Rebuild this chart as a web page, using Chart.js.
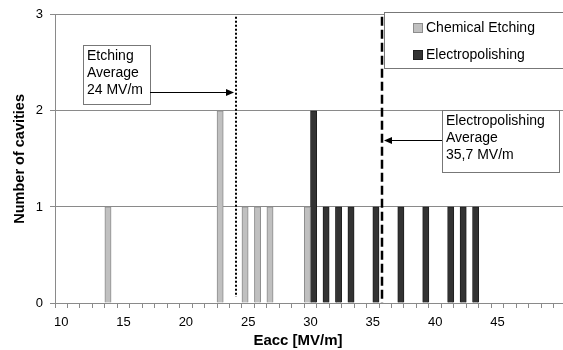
<!DOCTYPE html>
<html>
<head>
<meta charset="utf-8">
<title>Eacc distribution</title>
<script src="https://cdn.jsdelivr.net/npm/chart.js@4/dist/chart.umd.min.js"></script>
<style>
  html, body { margin: 0; padding: 0; background: #fff; overflow: hidden; }
  #wrap { width: 570px; height: 350px; }
</style>
</head>
<body>
<div id="wrap"><canvas id="cavityChart" width="570" height="350"></canvas></div>
<script>
// Gradient bins, 1 MV/m wide
const eaccBins = ['10', '11', '12', '13', '14', '15', '16', '17', '18', '19',
                  '20', '21', '22', '23', '24', '25', '26', '27', '28', '29',
                  '30', '31', '32', '33', '34', '35', '36', '37', '38', '39',
                  '40', '41', '42', '43', '44', '45', '46', '47', '48', '49', '50'];
const shownBinLabels = ['10', '15', '20', '25', '30', '35', '40', '45'];

// Chemical etching cavities per bin
const etchingBins = ['14', '23', '25', '26', '27', '30'];
const etchingCounts = [1, 2, 1, 1, 1, 1];

// Electropolished cavities per bin
const epBins = ['30', '31', '32', '33', '35', '37', '39', '41', '42', '43'];
const epCounts = [2, 1, 1, 1, 1, 1, 1, 1, 1, 1];

const etchingAverage = 24;
const epAverage = 35.7;
const etchingNote = ['Etching', 'Average', '24 MV/m'];
const epNote = ['Electropolishing', 'Average', '35,7 MV/m'];

const FONT = "'Liberation Sans', Arial, Helvetica, sans-serif";
const AXIS_GREY = '#8a8a8a';

function toPoints(bins, counts) {
    return bins.map((b, i) => ({ x: b, y: counts[i] }));
}

// bin value -> pixel, fractional values land between bin centres
function binPixel(xScale, v) {
    return xScale.getPixelForValue(v - Number(eaccBins[0]));
}

function noteBox(ctx, left, top, w, h, lines) {
    ctx.fillStyle = '#fff';
    ctx.fillRect(left, top, w, h);
    ctx.strokeStyle = '#777';
    ctx.lineWidth = 1;
    ctx.strokeRect(left + 0.5, top + 0.5, w, h);
    ctx.fillStyle = '#000';
    ctx.font = '14px ' + FONT;
    ctx.textAlign = 'left';
    ctx.textBaseline = 'middle';
    lines.forEach((t, i) => ctx.fillText(t, left + 4, top + 11 + i * 17));
}

function arrow(ctx, x0, x1, yy) {
    const dir = Math.sign(x1 - x0);
    ctx.strokeStyle = '#000';
    ctx.lineWidth = 1;
    ctx.setLineDash([]);
    ctx.beginPath();
    ctx.moveTo(x0, yy + 0.5);
    ctx.lineTo(x1 - dir * 6, yy + 0.5);
    ctx.stroke();
    ctx.fillStyle = '#000';
    ctx.beginPath();
    ctx.moveTo(x1, yy + 0.5);
    ctx.lineTo(x1 - dir * 8, yy - 3);
    ctx.lineTo(x1 - dir * 8, yy + 4);
    ctx.closePath();
    ctx.fill();
}

const overlayPlugin = {
    id: 'overlay',
    afterDatasetsDraw(chart) {
        const { ctx, chartArea, scales: { x, y } } = chart;
        ctx.save();

        // average markers
        const xe = Math.round(binPixel(x, etchingAverage));
        ctx.strokeStyle = '#000';
        ctx.lineWidth = 2;
        ctx.setLineDash([2, 2]);
        ctx.beginPath();
        ctx.moveTo(xe, chartArea.top + 2);
        ctx.lineTo(xe, y.getPixelForValue(0) - 6);
        ctx.stroke();

        const xp = Math.round(binPixel(x, epAverage));
        ctx.lineWidth = 2.5;
        ctx.setLineDash([9, 4]);
        ctx.beginPath();
        ctx.moveTo(xp, chartArea.top + 2);
        ctx.lineTo(xp, y.getPixelForValue(0));
        ctx.stroke();
        ctx.setLineDash([]);

        // annotation boxes with arrows
        noteBox(ctx, 83, 45, 67, 59, etchingNote);
        arrow(ctx, 150, xe - 2, 92);
        noteBox(ctx, 442, 110, 117, 62, epNote);
        arrow(ctx, 442, xp + 2, 140);

        // legend
        ctx.fillStyle = '#fff';
        ctx.fillRect(384, 12, 200, 57);
        ctx.strokeStyle = '#777';
        ctx.lineWidth = 1;
        ctx.strokeRect(384.5, 12.5, 200, 56);
        ctx.font = '14px ' + FONT;
        ctx.textAlign = 'left';
        ctx.textBaseline = 'middle';
        chart.data.datasets.forEach((ds, i) => {
            const cy = 28 + i * 27;
            ctx.fillStyle = ds.backgroundColor;
            ctx.fillRect(413, cy - 5, 10, 10);
            ctx.strokeStyle = ds.borderColor;
            ctx.strokeRect(413.5, cy - 4.5, 9, 9);
            ctx.fillStyle = '#000';
            ctx.fillText(ds.label, 426, cy);
        });

        // x axis title
        ctx.font = 'bold 15px ' + FONT;
        ctx.textAlign = 'center';
        ctx.fillText('Eacc [MV/m]', 298, 341);

        ctx.restore();
    }
};

new Chart(document.getElementById('cavityChart'), {
    type: 'bar',
    data: {
        labels: eaccBins,
        datasets: [
            {
                label: 'Chemical Etching',
                data: toPoints(etchingBins, etchingCounts),
                backgroundColor: '#c0c0c0',
                borderColor: '#8c8c8c',
                borderWidth: 1,
                barPercentage: 1,
                categoryPercentage: 1
            },
            {
                label: 'Electropolishing',
                data: toPoints(epBins, epCounts),
                backgroundColor: '#333333',
                borderColor: '#1e1e1e',
                borderWidth: 1,
                barPercentage: 1,
                categoryPercentage: 1
            }
        ]
    },
    options: {
        responsive: false,
        animation: false,
        layout: { padding: { top: 11, right: 4, left: 0, bottom: 0 } },
        plugins: {
            legend: { display: false },
            tooltip: { enabled: false }
        },
        scales: {
            x: {
                offset: true,
                grid: {
                    drawOnChartArea: false,
                    tickLength: 5,
                    color: AXIS_GREY
                },
                border: { color: AXIS_GREY },
                ticks: {
                    autoSkip: false,
                    maxRotation: 0,
                    padding: 7,
                    color: '#000',
                    font: { family: FONT, size: 13 },
                    callback: (val, i) => shownBinLabels.includes(eaccBins[i]) ? eaccBins[i] : ''
                },
                afterFit: (scale) => { scale.height = 47; }
            },
            y: {
                min: 0,
                max: 3,
                ticks: {
                    stepSize: 1,
                    padding: 7,
                    color: '#000',
                    font: { family: FONT, size: 13 }
                },
                grid: {
                    color: AXIS_GREY,
                    tickLength: 5
                },
                border: { color: AXIS_GREY },
                title: {
                    display: true,
                    text: 'Number of cavities',
                    color: '#000',
                    font: { family: FONT, size: 14.5, weight: 'bold' },
                    padding: { top: 11, bottom: 0 }
                },
                afterFit: (scale) => { scale.width = 55; }
            }
        }
    },
    plugins: [overlayPlugin]
});
</script>
</body>
</html>
